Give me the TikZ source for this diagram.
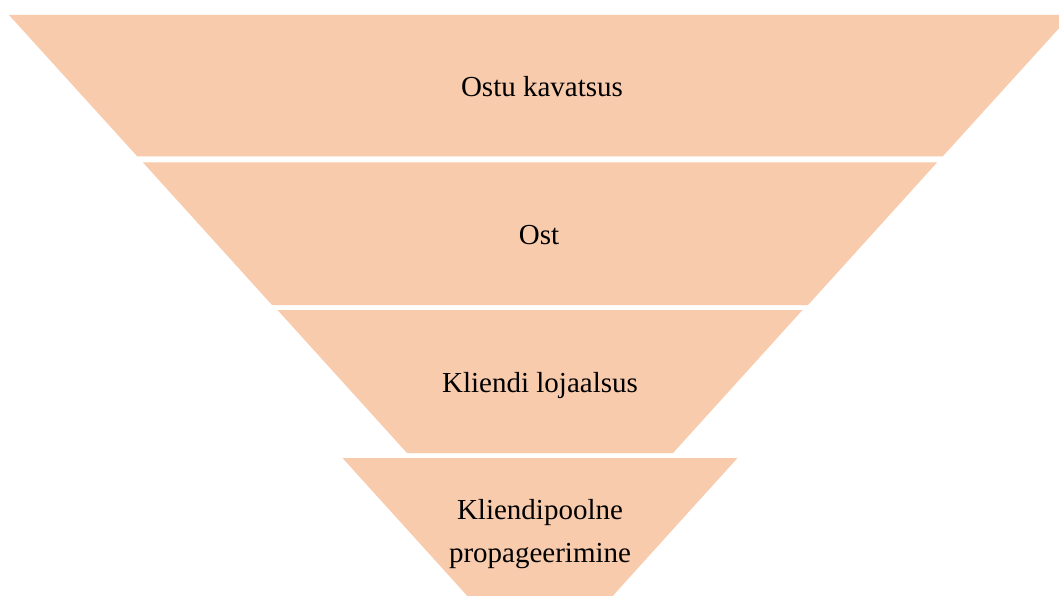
\documentclass[tikz,border=0pt]{standalone}
\usepackage{fontspec}
\setmainfont{Liberation Serif}
\definecolor{peach}{HTML}{F8CBAD}
\begin{document}
\begin{tikzpicture}[x=1pt,y=-1pt,
  layer/.style={fill=peach,draw=none},
  lbl/.style={anchor=base,inner sep=0pt,font=\fontsize{29}{43}\selectfont,align=center}]
\useasboundingbox (0,0) rectangle (1059,596);
\clip (0,0) rectangle (1059,596);
\fill[white] (0,0) rectangle (1059,596);
\path[layer] (9,15) -- (1071,15) -- (942.6,156.5) -- (137.4,156.5) -- cycle;
\path[layer] (143,162.5) -- (937,162.5) -- (808,305) -- (272,305) -- cycle;
\path[layer] (277.5,310) -- (802.5,310) -- (673,453) -- (407,453) -- cycle;
\path[layer] (342.5,458) -- (737.5,458) -- (609,600) -- (471,600) -- cycle;
\node[lbl] (t1) at (542,97) {Ostu kavatsus};
\node[lbl] (t2) at (539,244) {Ost};
\node[lbl] (t3) at (540,392) {Kliendi lojaalsus};
\node[lbl] (t4) at (540,562) {Kliendipoolne\\propageerimine};
\end{tikzpicture}
\end{document}
